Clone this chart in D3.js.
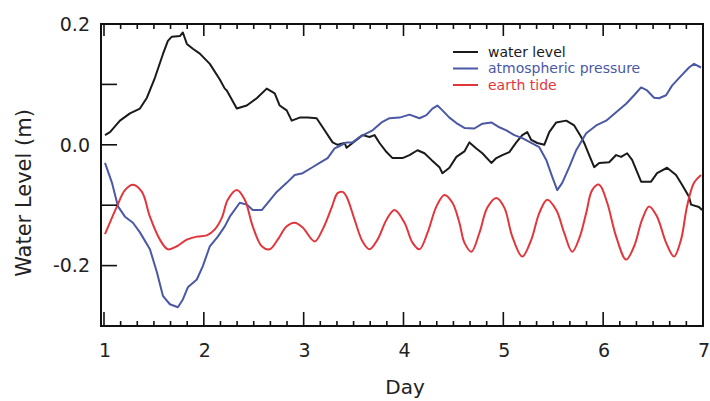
<!DOCTYPE html>
<html>
<head>
<meta charset="utf-8">
<script src="https://cdn.jsdelivr.net/npm/d3@7"></script>
<style>
  body { margin: 0; background: #fff; }
  svg text { font-family: "DejaVu Sans", Verdana, sans-serif; }
</style>
</head>
<body>
<svg width="710" height="401"></svg>
<script>
// DATA: [day, metres]
var waterLevel = [
  [1.01, 0.016], [1.06, 0.021], [1.16, 0.040], [1.26, 0.052], [1.36, 0.060], [1.43, 0.078],
  [1.51, 0.111], [1.59, 0.150], [1.64, 0.172], [1.68, 0.179], [1.76, 0.180], [1.79, 0.186],
  [1.83, 0.167], [1.89, 0.159], [1.96, 0.151], [2.06, 0.134], [2.16, 0.108], [2.21, 0.093],
  [2.23, 0.090], [2.33, 0.060], [2.43, 0.065], [2.53, 0.077], [2.63, 0.093], [2.71, 0.085],
  [2.76, 0.065], [2.83, 0.057], [2.88, 0.040], [2.96, 0.045], [3.04, 0.045], [3.13, 0.044],
  [3.19, 0.029], [3.29, 0.004], [3.34, 0.000], [3.41, 0.003], [3.43, -0.005], [3.49, 0.003],
  [3.59, 0.016], [3.66, 0.013], [3.71, 0.016], [3.76, 0.003], [3.83, -0.012], [3.89, -0.022],
  [3.99, -0.022], [4.06, -0.017], [4.14, -0.009], [4.21, -0.014], [4.28, -0.025], [4.36, -0.037],
  [4.39, -0.047], [4.46, -0.038], [4.53, -0.020], [4.61, -0.011], [4.66, 0.004], [4.73, -0.006],
  [4.79, -0.014], [4.88, -0.030], [4.93, -0.022], [4.99, -0.017], [5.06, -0.012], [5.13, 0.004],
  [5.19, 0.016], [5.24, 0.021], [5.28, 0.008], [5.34, 0.003], [5.41, 0.000], [5.46, 0.021],
  [5.53, 0.037], [5.63, 0.040], [5.71, 0.032], [5.78, 0.013], [5.81, 0.003], [5.86, -0.017],
  [5.91, -0.037], [5.96, -0.030], [6.06, -0.029], [6.13, -0.017], [6.18, -0.020], [6.24, -0.014],
  [6.29, -0.025], [6.38, -0.061], [6.48, -0.061], [6.54, -0.047], [6.64, -0.038], [6.73, -0.050],
  [6.79, -0.066], [6.86, -0.086], [6.88, -0.099], [6.96, -0.103], [6.99, -0.108]
];

var atmPressure = [
  [1.01, -0.030], [1.08, -0.063], [1.14, -0.102], [1.21, -0.119], [1.29, -0.129], [1.36, -0.145],
  [1.46, -0.173], [1.53, -0.211], [1.59, -0.250], [1.66, -0.264], [1.74, -0.269], [1.79, -0.256],
  [1.84, -0.236], [1.93, -0.223], [1.99, -0.201], [2.06, -0.168], [2.14, -0.152], [2.21, -0.135],
  [2.26, -0.119], [2.36, -0.096], [2.43, -0.099], [2.49, -0.108], [2.58, -0.108], [2.64, -0.096],
  [2.73, -0.078], [2.83, -0.063], [2.91, -0.050], [2.99, -0.047], [3.08, -0.038], [3.16, -0.030],
  [3.24, -0.022], [3.31, -0.006], [3.36, -0.002], [3.43, 0.004], [3.49, 0.004], [3.56, 0.013],
  [3.63, 0.019], [3.69, 0.024], [3.78, 0.037], [3.86, 0.044], [3.96, 0.045], [4.06, 0.050],
  [4.16, 0.044], [4.23, 0.049], [4.29, 0.060], [4.34, 0.065], [4.39, 0.057], [4.46, 0.045],
  [4.53, 0.036], [4.61, 0.028], [4.71, 0.027], [4.79, 0.035], [4.88, 0.037], [4.96, 0.029],
  [5.03, 0.024], [5.11, 0.016], [5.19, 0.011], [5.28, 0.003], [5.36, -0.004], [5.43, -0.025],
  [5.49, -0.053], [5.54, -0.075], [5.59, -0.063], [5.66, -0.037], [5.73, -0.009], [5.79, 0.008],
  [5.83, 0.019], [5.93, 0.032], [6.03, 0.040], [6.13, 0.054], [6.23, 0.068], [6.31, 0.082],
  [6.38, 0.095], [6.44, 0.090], [6.51, 0.078], [6.56, 0.077], [6.63, 0.082], [6.69, 0.098],
  [6.78, 0.114], [6.86, 0.128], [6.91, 0.134], [6.98, 0.128]
];

var earthTide = [
  [1.01, -0.148], [1.13, -0.102], [1.21, -0.075], [1.29, -0.066], [1.38, -0.078], [1.46, -0.119],
  [1.56, -0.157], [1.64, -0.173], [1.73, -0.168], [1.83, -0.157], [1.93, -0.152], [2.03, -0.150],
  [2.11, -0.140], [2.18, -0.121], [2.24, -0.091], [2.33, -0.075], [2.41, -0.091], [2.49, -0.135],
  [2.58, -0.168], [2.66, -0.173], [2.74, -0.157], [2.83, -0.135], [2.91, -0.129], [2.99, -0.137],
  [3.11, -0.160], [3.19, -0.140], [3.28, -0.104], [3.34, -0.080], [3.39, -0.078], [3.43, -0.086],
  [3.51, -0.124], [3.59, -0.160], [3.66, -0.173], [3.74, -0.157], [3.83, -0.124], [3.91, -0.108],
  [4.01, -0.129], [4.09, -0.162], [4.16, -0.173], [4.24, -0.146], [4.33, -0.102], [4.41, -0.083],
  [4.49, -0.096], [4.56, -0.129], [4.61, -0.162], [4.68, -0.177], [4.76, -0.146], [4.84, -0.104],
  [4.93, -0.088], [5.01, -0.104], [5.09, -0.152], [5.19, -0.185], [5.28, -0.157], [5.36, -0.113],
  [5.44, -0.091], [5.53, -0.108], [5.61, -0.146], [5.69, -0.177], [5.76, -0.155], [5.83, -0.113],
  [5.89, -0.075], [5.96, -0.066], [6.04, -0.096], [6.13, -0.152], [6.23, -0.190], [6.31, -0.168],
  [6.39, -0.124], [6.46, -0.102], [6.54, -0.119], [6.63, -0.162], [6.71, -0.185], [6.78, -0.157],
  [6.84, -0.102], [6.91, -0.063], [6.98, -0.050]
];

var seriesNames = ["water level", "atmospheric pressure", "earth tide"];
var seriesColors = ["#1a1a1a", "#4b58a6", "#e2363c"];
var xTickValues = [1, 2, 3, 4, 5, 6, 7];
var yTickValues = [-0.2, -0.1, 0.0, 0.1];
var yLabelValues = [-0.2, 0.0, 0.2];

// SET UP CHART
var svg = d3.select("svg"),
  plotLeft = 101, plotRight = 703, plotTop = 24, plotBottom = 326;

var x = d3.scaleLinear().domain([0.97, 7]).range([plotLeft, plotRight]),
    y = d3.scaleLinear().domain([-0.3, 0.2]).range([plotBottom, plotTop]);

var lineGen = d3.line()
  .x(function(d) { return x(d[0]); })
  .y(function(d) { return y(d[1]); });

// LINES
var allSeries = [waterLevel, atmPressure, earthTide];
svg.append("g").selectAll("path")
  .data(allSeries)
  .enter().append("path")
  .attr("fill", "none")
  .attr("stroke", function(d, i) { return seriesColors[i]; })
  .attr("stroke-width", 2)
  .attr("stroke-linejoin", "round")
  .attr("d", function(d, i) {
    return i == 2 ? lineGen.curve(d3.curveCatmullRom)(d) : lineGen.curve(d3.curveLinear)(d);
  });

// FRAME
svg.append("rect")
  .attr("x", plotLeft).attr("y", plotTop)
  .attr("width", plotRight - plotLeft).attr("height", plotBottom - plotTop)
  .attr("fill", "none").attr("stroke", "#111").attr("stroke-width", 2);

// TICK MARKS (all inward): every 4 hours on top and bottom, longer on whole days
var minorTicks = d3.range(37).map(function(i) { return 1 + i / 6; })
  .filter(function(d) { return d < 7; });

function xTickLen(d) { return Math.abs(d - Math.round(d)) < 1e-6 ? 14 : 5; }

var tickG = svg.append("g").attr("stroke", "#111").attr("stroke-width", 1.6);

tickG.selectAll(".xb")
  .data(minorTicks)
  .enter().append("line")
  .attr("class", "xb")
  .attr("x1", function(d) { return x(d); })
  .attr("x2", function(d) { return x(d); })
  .attr("y1", plotBottom)
  .attr("y2", function(d) { return plotBottom - xTickLen(d); });

tickG.selectAll(".xt")
  .data(minorTicks)
  .enter().append("line")
  .attr("class", "xt")
  .attr("x1", function(d) { return x(d); })
  .attr("x2", function(d) { return x(d); })
  .attr("y1", plotTop)
  .attr("y2", function(d) { return plotTop + (xTickLen(d) > 5 ? 12 : 5); });

tickG.selectAll(".yl")
  .data(yTickValues)
  .enter().append("line")
  .attr("class", "yl")
  .attr("x1", plotLeft)
  .attr("x2", plotLeft + 16)
  .attr("y1", function(d) { return y(d); })
  .attr("y2", function(d) { return y(d); });

// TICK LABELS
svg.append("g").selectAll("text")
  .data(xTickValues)
  .enter().append("text")
  .attr("x", function(d) { return x(d) + 1; })
  .attr("y", 357)
  .attr("text-anchor", "middle")
  .attr("font-size", 19)
  .attr("fill", "#222")
  .text(function(d) { return d; });

svg.append("g").selectAll("text")
  .data(yLabelValues)
  .enter().append("text")
  .attr("x", 90)
  .attr("y", function(d) { return y(d); })
  .attr("dy", "0.36em")
  .attr("text-anchor", "end")
  .attr("font-size", 19)
  .attr("fill", "#222")
  .text(function(d) { return d3.format(".1f")(d).replace("−", "-"); });

// LEGEND
var legend = svg.append("g").selectAll("g")
  .data(seriesNames)
  .enter().append("g")
  .attr("transform", function(d, i) { return "translate(453," + (52 + i * 16.5) + ")"; });

legend.append("line")
  .attr("x1", 0).attr("x2", 25)
  .attr("stroke", function(d, i) { return seriesColors[i]; })
  .attr("stroke-width", 2);

legend.append("text")
  .attr("x", 35)
  .attr("dy", "0.33em")
  .attr("font-size", 14)
  .attr("fill", function(d, i) { return seriesColors[i]; })
  .text(function(d) { return d; });

// ADD TEXT
svg.append("text")
  .text("Day")
  .attr("x", 405)
  .attr("y", 394)
  .attr("text-anchor", "middle")
  .attr("font-size", 20)
  .attr("fill", "#222");

svg.append("text")
  .text("Water Level (m)")
  .attr("text-anchor", "middle")
  .attr("font-size", 21)
  .attr("fill", "#222")
  .attr("transform", "translate(31,193) rotate(-90)");
</script>
</body>
</html>
